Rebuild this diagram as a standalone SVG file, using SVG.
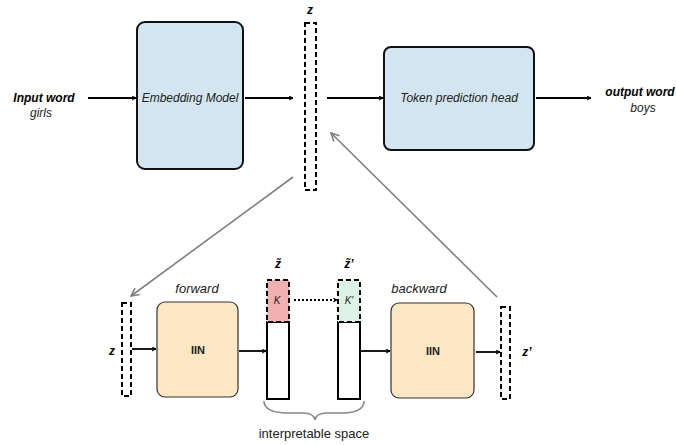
<svg xmlns="http://www.w3.org/2000/svg" width="676" height="445" viewBox="0 0 676 445">
<defs>
<marker id="ah" viewBox="0 0 10 10" refX="9" refY="5" markerWidth="5" markerHeight="5" orient="auto" markerUnits="userSpaceOnUse">
<path d="M1,1 L9,5 L1,9" fill="none" stroke="#000" stroke-width="2"/>
</marker>
<marker id="ahg" viewBox="0 0 10 10" refX="9" refY="5" markerWidth="10" markerHeight="10" orient="auto" markerUnits="userSpaceOnUse">
<path d="M1,1 L9,5 L1,9" fill="none" stroke="#808080" stroke-width="1.6"/>
</marker>
</defs>
<style>
text{font-family:"Liberation Sans",Arial,sans-serif;fill:#222}
.bi{font-weight:bold;font-style:italic;fill:#000}
.it{font-style:italic}
.blue{fill:#d3e5f0;stroke:#111;stroke-width:2}
.peach{fill:#fde7c4;stroke:#333;stroke-width:1.2}
.dash{fill:#fff;stroke:#000;stroke-width:2;stroke-dasharray:5,3}
.solid{fill:#fff;stroke:#000;stroke-width:2}
.c{stroke:#000;stroke-width:1.8;fill:none;marker-end:url(#ah)}
.g{stroke:#808080;stroke-width:1.6;fill:none;marker-end:url(#ahg)}
</style>
<rect width="676" height="445" fill="#fff"/>

<g id="input">
<text x="44" y="102" class="bi" font-size="12" text-anchor="middle">Input word</text>
<text x="41" y="117" class="it" font-size="12" text-anchor="middle">girls</text>
</g>
<g id="embedding">
<rect x="137" y="22" width="106" height="147" rx="8" class="blue"/>
<text x="190" y="102" class="it" font-size="12" text-anchor="middle">Embedding Model</text>
</g>
<g id="z-top">
<rect x="305" y="23" width="11" height="167" class="dash"/>
<text x="310" y="14" class="bi" font-size="12" text-anchor="middle">z</text>
</g>
<g id="token-head">
<rect x="384" y="47" width="150" height="103" rx="7" class="blue"/>
<text x="459" y="102" class="it" font-size="12" text-anchor="middle">Token prediction head</text>
</g>
<g id="output">
<text x="640" y="96" class="bi" font-size="12" text-anchor="middle">output word</text>
<text x="643" y="112" class="it" font-size="12" text-anchor="middle">boys</text>
</g>

<g id="z-bottom">
<rect x="122" y="303" width="9" height="93" class="dash"/>
<text x="112" y="355" class="bi" font-size="12" text-anchor="middle">z</text>
</g>
<g id="iin-forward">
<rect x="157" y="302" width="81" height="95" rx="8" class="peach"/>
<text x="198" y="354" font-size="11" font-weight="bold" text-anchor="middle">IIN</text>
<text x="197" y="293" class="it" font-size="13" text-anchor="middle">forward</text>
</g>
<g id="z-tilde">
<rect x="267" y="322" width="22" height="77" class="solid"/>
<rect x="267" y="280" width="22" height="42" fill="#f2b0b0" stroke="#000" stroke-width="2" stroke-dasharray="5,3"/>
<text x="277" y="304" class="it" font-size="10" text-anchor="middle">K</text>
<text x="278" y="268" class="bi" font-size="12" text-anchor="middle">z̃</text>
</g>
<g id="z-tilde-prime">
<rect x="338" y="322" width="22" height="77" class="solid"/>
<rect x="338" y="280" width="22" height="42" fill="#dcf4e8" stroke="#000" stroke-width="2" stroke-dasharray="5,3"/>
<text x="349" y="304" class="it" font-size="10" text-anchor="middle">K'</text>
<text x="349" y="268" class="bi" font-size="12" text-anchor="middle">z̃’</text>
</g>
<g id="iin-backward">
<rect x="391" y="303" width="83" height="95" rx="8" class="peach"/>
<text x="433" y="355" font-size="11" font-weight="bold" text-anchor="middle">IIN</text>
<text x="419" y="293" class="it" font-size="13" text-anchor="middle">backward</text>
</g>
<g id="z-prime">
<rect x="501" y="307" width="9" height="92" class="dash"/>
<text x="527" y="356" class="bi" font-size="12" text-anchor="middle">z’</text>
</g>
<g id="interpretable">
<path d="M264,401 Q264,412 285,413 L303,413 Q314,413 315,420 Q316,413 327,413 L345,413 Q364,412 364,401" fill="none" stroke="#888" stroke-width="1.6"/>
<text x="314" y="438" font-size="13" text-anchor="middle">interpretable space</text>
</g>

<g id="connectors">
<line x1="88" y1="98" x2="136" y2="98" class="c"/>
<line x1="245" y1="98" x2="293" y2="98" class="c"/>
<line x1="327" y1="98" x2="383" y2="98" class="c"/>
<line x1="536" y1="98" x2="591" y2="98" class="c"/>
<line x1="293" y1="177" x2="131" y2="296" class="g"/>
<line x1="497" y1="297" x2="331" y2="133" class="g"/>
<line x1="132" y1="349" x2="156" y2="349" class="c"/>
<line x1="239" y1="351" x2="266" y2="351" class="c"/>
<line x1="294" y1="300" x2="337" y2="300" class="c" stroke-dasharray="2,2"/>
<line x1="361" y1="351" x2="390" y2="351" class="c"/>
<line x1="476" y1="352" x2="500" y2="352" class="c"/>
</g>
</svg>
